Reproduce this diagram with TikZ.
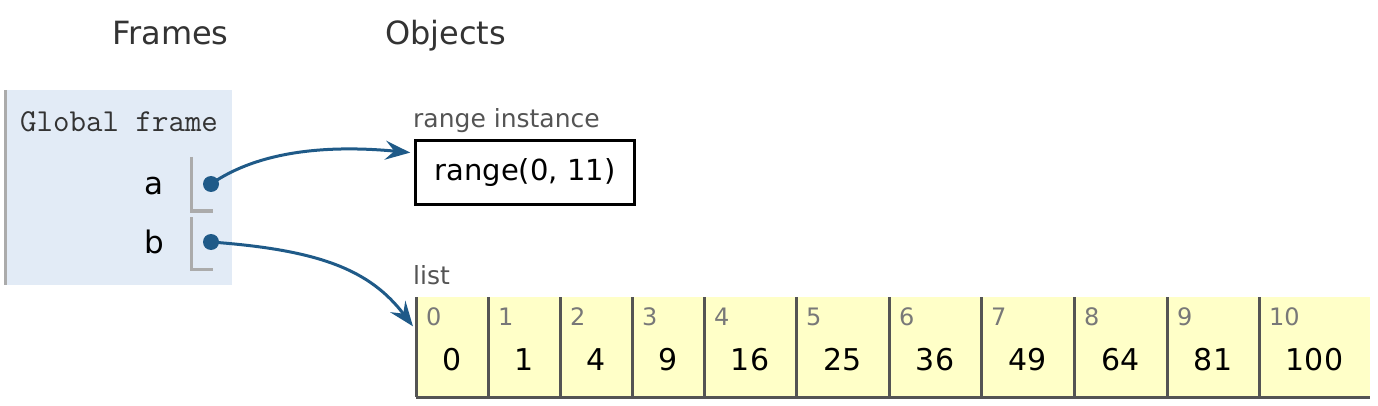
\documentclass[tikz,border=0pt]{standalone}
\usepackage{fontspec}
\setmainfont{DejaVu Sans}
\usetikzlibrary{
    arrows.meta,
    positioning
}
\definecolor{ptrblue}{HTML}{1F5A88}
\definecolor{framebg}{HTML}{E2EBF6}
\definecolor{listbg}{HTML}{FFFFC8}
\newcommand{\pxfont}[1]{\fontsize{#1}{#1}\selectfont}
\tikzset{
    lbl/.style={inner sep=0pt, anchor=base west},
    cellbox/.style={fill=listbg, inner sep=0pt, minimum height=100pt, anchor=north west},
    ptr/.style={ptrblue, line width=3pt, -{Stealth[length=25pt, width=19pt, inset=9pt]}},
    dot/.style={circle, fill=ptrblue, inner sep=0pt, minimum size=16pt}
}

\begin{document}
\begin{tikzpicture}[x=1pt, y=-1pt]
                        \useasboundingbox (0, 0) rectangle (1378, 406);

                        \node (fr) [lbl, text=black!80] at (112, 45) {\pxfont{32}Frames};
                        \node (ob) [lbl, text=black!80] at (385, 45) {\pxfont{32}Objects};

                        % global frame
                        \node (gfr) [fill=framebg, inner sep=0pt, minimum width=226pt, minimum height=195pt] at (119, 187.5) {};
                        \draw [black!33, line width=3pt] (gfr.north west) -- (gfr.south west);
                        \node (gf) [lbl, text=black!80] at (20, 132) {\pxfont{32}\ttfamily Global frame};
                        \node (va) [inner sep=0pt, anchor=base east] at (164, 195) {\pxfont{31}a};
                        \node (vb) [inner sep=0pt, anchor=base east] at (164, 253) {\pxfont{31}b};
                        \draw [black!33, line width=3pt] (191, 157) -- (191, 211) -- (213, 211);
                        \draw [black!33, line width=3pt] (191, 217) -- (191, 269) -- (213, 269);
                        \node (pa) [dot] at (211, 184) {};
                        \node (pb) [dot] at (211, 242) {};

                        % range instance
                        \node (ri) [lbl, text=black!67] at (413, 128) {\pxfont{25}range instance};
                        \node (rng) [draw, line width=2.5pt, inner sep=0pt, minimum width=219pt, minimum height=64pt] at (525, 172.5) {\pxfont{29}range(0, 11)};

                        % list
                        \node (ls) [lbl, text=black!67] at (413, 284) {\pxfont{25}list};
                        \foreach \x/\w/\v [count=\i from 0] in {416/72/0, 488/72/1, 560/72/4, 632/72/9, 704/92/16, 796/93/25, 889/92/36, 981/93/49, 1074/93/64, 1167/92/81, 1259/111/100} {
                            \node (c\i) [cellbox, minimum width=\w pt] at (\x, 297) {};
                            \draw [black!67, line width=3pt] (c\i.north west) -- (c\i.south west);
                            \node (i\i) [lbl, text=black!53] at (\x+10, 325) {\pxfont{24}\i};
                            \node (v\i) [inner sep=0pt, anchor=base] at (\x+\w/2, 370) {\pxfont{30}\v};
                        }
                        \draw [black!67, line width=3pt] (c0.south west) -- (c10.south east);

                        \draw [ptr, shorten >=4pt] (pa.center) .. controls (260, 150) and (330, 145) .. (rng.170);
                        \draw [ptr, shorten >=5pt] (pb.center) .. controls (320, 250) and (370, 270) .. (c0.155);
                    \end{tikzpicture}
\end{document}
